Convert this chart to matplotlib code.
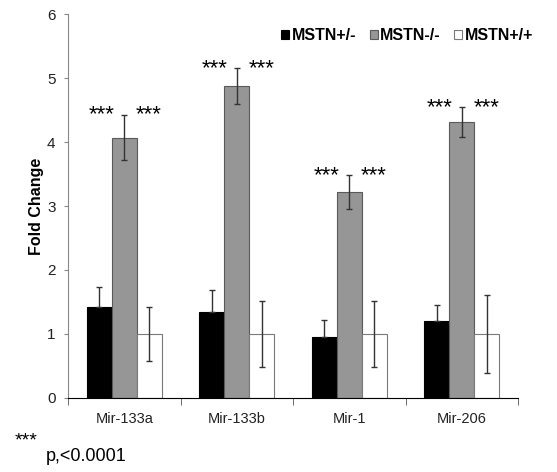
import matplotlib.pyplot as plt
import numpy as np

plt.rcParams['font.family'] = ['Liberation Sans', 'DejaVu Sans']

categories = ['Mir-133a', 'Mir-133b', 'Mir-1', 'Mir-206']
het = [1.42, 1.34, 0.96, 1.21]        # MSTN+/-
het_err = [0.32, 0.34, 0.26, 0.24]
ko = [4.07, 4.87, 3.22, 4.31]         # MSTN-/-
ko_err = [0.35, 0.28, 0.26, 0.23]
wt = [1.0, 1.0, 1.0, 1.0]             # MSTN+/+
wt_err = [0.42, 0.52, 0.52, 0.61]
stars = '***'


def main():
    fig = plt.figure(figsize=(5.57, 4.72), dpi=100)
    ax = fig.add_axes([0.1221, 0.1568, 0.8079, 0.8135])

    x = np.arange(len(categories))
    w = 0.222
    ekw = dict(ecolor='#333333', elinewidth=1.0, capsize=2.5, capthick=1.0)

    # black bars: only the upper half of the error bar shows
    ax.bar(x - w, het, w, yerr=[np.zeros(len(het)), het_err], color='black',
           edgecolor='black', linewidth=0.8, error_kw=ekw, label='MSTN+/-')
    ax.bar(x, ko, w, yerr=ko_err, color='#969696', edgecolor='#5a5a5a',
           linewidth=0.8, error_kw=ekw, label='MSTN-/-')
    ax.bar(x + w, wt, w, yerr=wt_err, color='white', edgecolor='#7a7a7a',
           linewidth=0.8, error_kw=ekw, label='MSTN+/+')

    # significance stars on either side of the knockout bar
    for i in range(len(categories)):
        y = ko[i] + ko_err[i]
        ax.text(x[i] - 0.2, y, stars, ha='center', va='center', fontsize=16)
        ax.text(x[i] + 0.22, y, stars, ha='center', va='center', fontsize=16)

    ax.set_xlim(-0.5, len(categories) - 0.5)
    ax.set_ylim(0, 6)
    ax.set_yticks(range(0, 7))
    ax.set_xticks(x)
    ax.set_xticklabels(categories, fontsize=10.5, color='#222222')
    ax.set_xticks(np.arange(-0.5, len(categories)), minor=True)
    ax.tick_params(axis='x', which='major', length=0, pad=10)
    ax.tick_params(axis='x', which='minor', length=5, color='#555555')
    ax.tick_params(axis='y', length=3, color='#888888', labelsize=11, pad=6,
                   labelcolor='#222222')

    ax.spines['right'].set_color('none')
    ax.spines['top'].set_color('none')
    ax.spines['left'].set_color('#888888')
    ax.spines['bottom'].set_color('black')

    ax.set_ylabel('Fold Change', fontsize=11.5, fontweight='bold', labelpad=2)

    ax.legend(loc='upper right', ncol=3, frameon=False, bbox_to_anchor=(1.065, 1.0),
              prop={'weight': 'bold', 'size': 11.5}, handlelength=0.5, handleheight=0.5,
              handletextpad=0.15, columnspacing=0.85)

    fig.text(0.027, 0.056, stars, fontsize=14)
    fig.text(0.083, 0.024, 'p,<0.0001', fontsize=13)

    fig.savefig('out.png', dpi=100)


if __name__ == "__main__":
    main()
